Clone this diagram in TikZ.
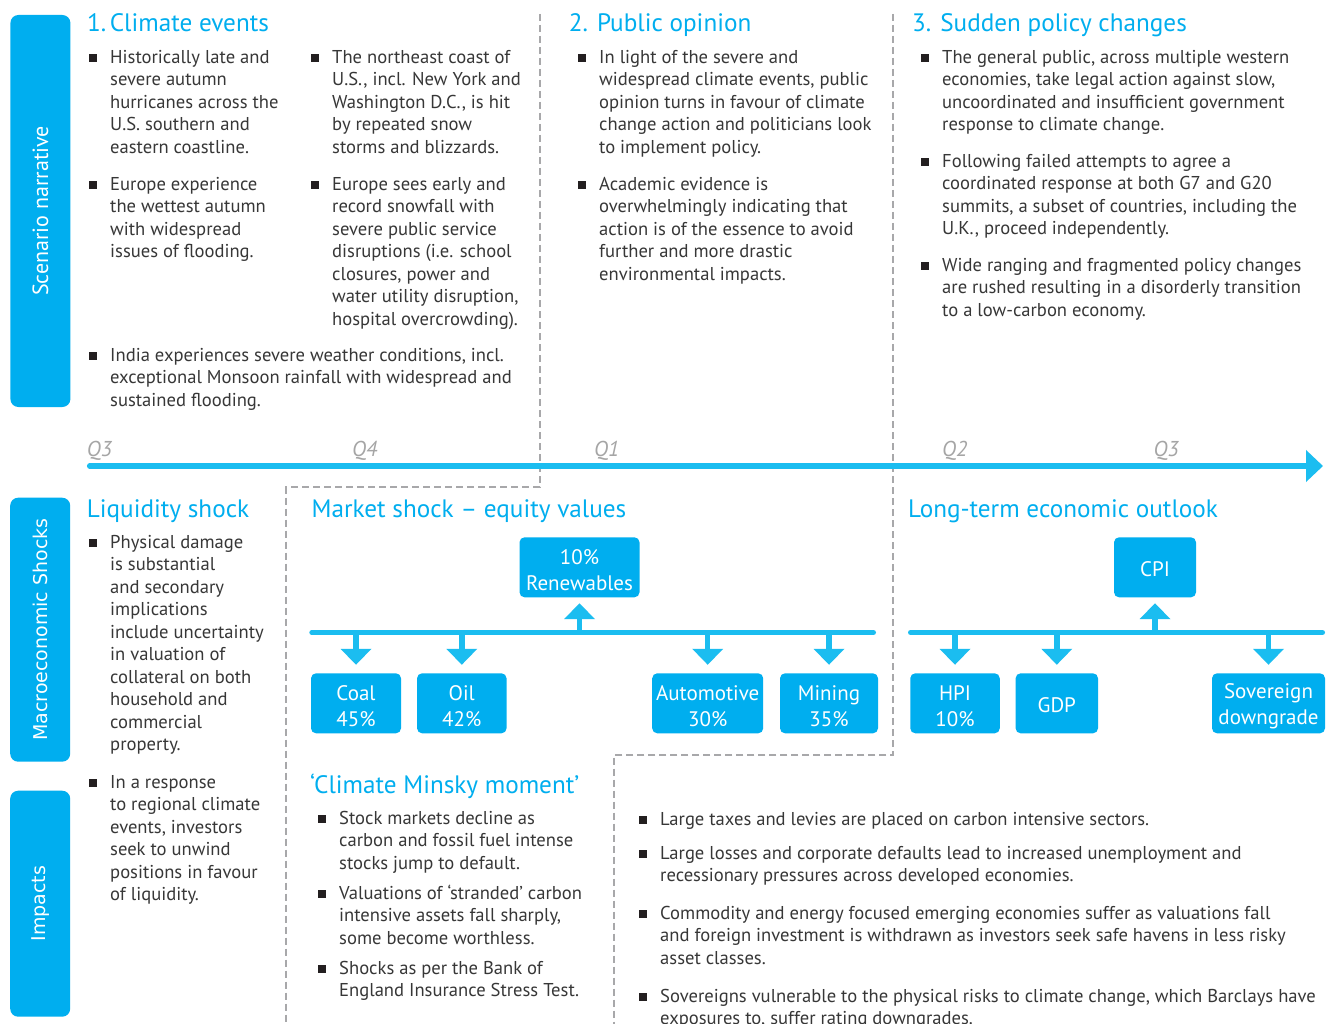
\documentclass[tikz,border=0pt]{standalone}
\usepackage{fontspec}
\setmainfont{PT Sans}
\newfontfamily\dvsans{DejaVu Sans}
\usetikzlibrary{arrows.meta}
\definecolor{bblue}{RGB}{0,174,239}
\definecolor{ablue}{RGB}{27,189,240}
\definecolor{txt}{RGB}{55,55,55}
\definecolor{qgray}{RGB}{165,165,165}
\definecolor{dgray}{RGB}{168,168,170}
\definecolor{bulc}{RGB}{35,31,32}
\newcommand\bsq{\llap{\textcolor{bulc}{\rule[1.5pt]{7.5pt}{7.5pt}}\hspace{13.5pt}}}
\newcommand\bxs{\rule{0pt}{21pt}}
\begin{document}
\begin{tikzpicture}[x=1pt,y=-1pt,
  body/.style={anchor=north west, align=left, inner sep=0pt, text=txt, yshift=15.75pt, font=\fontsize{18.6}{22.5}\selectfont},
  ttl/.style={anchor=base west, inner sep=0pt, text=bblue, font=\fontsize{25.2}{29}\selectfont},
  qlab/.style={anchor=base west, inner sep=0pt, text=qgray, font=\fontsize{21.5}{25}\selectfont\itshape},
  bx/.style={fill=bblue, rounded corners=5pt, text=white, align=center, inner sep=0pt, font=\fontsize{21}{26}\selectfont, minimum height=60pt},
  side/.style={fill=bblue, rounded corners=8pt, text=white, inner sep=0pt, rotate=90, minimum height=60pt},
  darr/.style={draw=ablue, line width=5.5pt, -{Triangle[width=30pt,length=16pt]}},
  bar/.style={draw=ablue, line width=5pt, line cap=round},
  dsh/.style={draw=dgray, line width=2pt, dash pattern=on 7pt off 4pt}
]
\useasboundingbox (0,0) rectangle (1340,1024);
\fill[white] (0,0) rectangle (1340,1024);

% side labels
\node[side, minimum width=392pt, font=\fontsize{22}{26}\selectfont] (sn) at (40.4,211) {Scenario narrative};
\node[side, minimum width=264pt, font=\dvsans\fontsize{19}{23}\selectfont] (ms) at (40.2,629.7) {Macroeconomic Shocks};
\node[side, minimum width=226pt, font=\dvsans\fontsize{19}{23}\selectfont] (im) at (40.2,903.7) {Impacts};

% dashed separators
\coordinate (d1a) at (539.5,14); \coordinate (d1b) at (539.5,487); \coordinate (d1c) at (286,487); \coordinate (d1d) at (286,1030);
\coordinate (d2a) at (893.3,14); \coordinate (d2b) at (893.3,755); \coordinate (d2c) at (614,755); \coordinate (d2d) at (614,1030);
\draw[dsh] (d1a) -- (d1b) -- (d1c) -- (d1d);
\draw[dsh] (d2a) -- (d2b) -- (d2c) -- (d2d);

% titles row 1
\node[ttl] (t1) at (87,32) {1.\hspace{3.5pt}Climate events};
\node[ttl] (t2) at (568.7,32) {2. Public opinion};
\node[ttl] (t3) at (912,32) {3. Sudden policy changes};

% climate events
\node[body] (p1a) at (110,63) {\strut\bsq Historically late and\\severe autumn\\hurricanes across the\\U.S. southern and\\eastern coastline.};
\node[body] (p1b) at (110,190) {\strut\bsq Europe experience\\the wettest autumn\\with widespread\\issues of flooding.};
\node[body] (p1c) at (332,63) {\strut\bsq The northeast coast of\\U.S., incl. New York and\\Washington D.C., is hit\\by repeated snow\\storms and blizzards.};
\node[body] (p1d) at (332,190) {\strut\bsq Europe sees early and\\record snowfall with\\severe public service\\disruptions (i.e. school\\closures, power and\\water utility disruption,\\hospital overcrowding).};
\node[body] (p1e) at (110,361) {\strut\bsq India experiences severe weather conditions, incl.\\exceptional Monsoon rainfall with widespread and\\sustained flooding.};

% public opinion
\node[body] (p2a) at (599,63) {\strut\bsq In light of the severe and\\widespread climate events, public\\opinion turns in favour of climate\\change action and politicians look\\to implement policy.};
\node[body] (p2b) at (599,190) {\strut\bsq Academic evidence is\\overwhelmingly indicating that\\action is of the essence to avoid\\further and more drastic\\environmental impacts.};

% sudden policy changes
\node[body] (p3a) at (942,63) {\strut\bsq The general public, across multiple western\\economies, take legal action against slow,\\uncoordinated and insufficient government\\response to climate change.};
\node[body] (p3b) at (942,167) {\strut\bsq Following failed attempts to agree a\\coordinated response at both G7 and G20\\summits, a subset of countries, including the\\U.K., proceed independently.};
\node[body] (p3c) at (942,271) {\strut\bsq Wide ranging and fragmented policy changes\\are rushed resulting in a disorderly transition\\to a low-carbon economy.};

% timeline
\node[qlab] (q3a) at (86.7,456) {Q3};
\node[qlab] (q4) at (352,456) {Q4};
\node[qlab] (q1) at (594,456) {Q1};
\node[qlab] (q2) at (942,456) {Q2};
\node[qlab] (q3b) at (1153.5,456) {Q3};
\coordinate (tl0) at (89.6,466);
\coordinate (tl1) at (1323,466);
\draw[draw=ablue, line width=5.3pt, line cap=round, -{Triangle[width=31pt,length=17pt]}] (tl0) -- (tl1);

% row 2 titles
\node[ttl] (s1) at (86.7,517) {Liquidity shock};
\node[ttl] (s2) at (311.4,517) {Market shock -- equity values};
\node[ttl] (s3) at (908,517) {Long-term economic outlook};

% liquidity
\node[body] (lq1) at (110,548) {\strut\bsq Physical damage\\is substantial\\and secondary\\implications\\include uncertainty\\in valuation of\\collateral on both\\household and\\commercial\\property.};
\node[body] (lq2) at (110,788) {\strut\bsq In a response\\to regional climate\\events, investors\\seek to unwind\\positions in favour\\of liquidity.};

% market shock bar and boxes
\coordinate (mb0) at (311.8,632.5); \coordinate (mb1) at (873.5,632.5);
\draw[bar] (mb0) -- (mb1);
\node[bx, minimum width=120pt] (ren) at (579.5,567.3) {\bxs 10\%\\Renewables};
\node[bx, minimum width=90pt] (coal) at (356,703.3) {\bxs Coal\\45\%};
\node[bx, minimum width=89.5pt] (oil) at (461.8,703.3) {\bxs Oil\\42\%};
\node[bx, minimum width=111pt] (auto) at (707.7,703.3) {\bxs Automotive\\30\%};
\node[bx, minimum width=98pt] (mine) at (829,703.3) {\bxs Mining\\35\%};
\coordinate (mren) at (579.5,632.5);
\coordinate (mcoal) at (356,632.5);
\coordinate (moil) at (461.8,632.5);
\coordinate (mauto) at (707.7,632.5);
\coordinate (mmine) at (829,632.5);
\draw[darr] (mren) -- ([yshift=-5.7pt]ren.south);
\draw[darr] (mcoal) -- ([yshift=8.3pt]coal.north);
\draw[darr] (moil) -- ([yshift=8.3pt]oil.north);
\draw[darr] (mauto) -- ([yshift=8.3pt]auto.north);
\draw[darr] (mmine) -- ([yshift=8.3pt]mine.north);

% long-term bar and boxes
\coordinate (lb0) at (910.5,632.5); \coordinate (lb1) at (1322.5,632.5);
\draw[bar] (lb0) -- (lb1);
\node[bx, minimum width=82pt] (cpi) at (1155,567.3) {\rule{0pt}{19.5pt}CPI};
\node[bx, minimum width=89.5pt] (hpi) at (955,703.3) {\bxs HPI\\10\%};
\node[bx, minimum width=82.4pt] (gdp) at (1056.8,703.3) {\rule{0pt}{19.5pt}GDP};
\node[bx, minimum width=113pt] (sov) at (1268.5,703.3) {\bxs Sovereign\\downgrade};
\coordinate (lcpi) at (1155,632.5);
\coordinate (lhpi) at (955,632.5);
\coordinate (lgdp) at (1056.8,632.5);
\coordinate (lsov) at (1268.5,632.5);
\draw[darr] (lcpi) -- ([yshift=-5.7pt]cpi.south);
\draw[darr] (lhpi) -- ([yshift=8.3pt]hpi.north);
\draw[darr] (lgdp) -- ([yshift=8.3pt]gdp.north);
\draw[darr] (lsov) -- ([yshift=8.3pt]sov.north);

% Minsky moment
\node[ttl] (s4) at (310,793) {‘Climate Minsky moment’};
\node[body] (mk1) at (339,824) {\strut\bsq Stock markets decline as\\carbon and fossil fuel intense\\stocks jump to default.};
\node[body] (mk2) at (339,899) {\strut\bsq Valuations of ‘stranded’ carbon\\intensive assets fall sharply,\\some become worthless.};
\node[body] (mk3) at (339,974) {\strut\bsq Shocks as per the Bank of\\England Insurance Stress Test.};

% long-term impacts
\node[body] (lt1) at (660,825) {\strut\bsq Large taxes and levies are placed on carbon intensive sectors.};
\node[body] (lt2) at (660,859) {\strut\bsq Large losses and corporate defaults lead to increased unemployment and\\recessionary pressures across developed economies.};
\node[body] (lt3) at (660,919) {\strut\bsq Commodity and energy focused emerging economies suffer as valuations fall\\and foreign investment is withdrawn as investors seek safe havens in less risky\\asset classes.};
\node[body] (lt4) at (660,1002) {\strut\bsq Sovereigns vulnerable to the physical risks to climate change, which Barclays have\\exposures to, suffer rating downgrades.};
\end{tikzpicture}
\end{document}
